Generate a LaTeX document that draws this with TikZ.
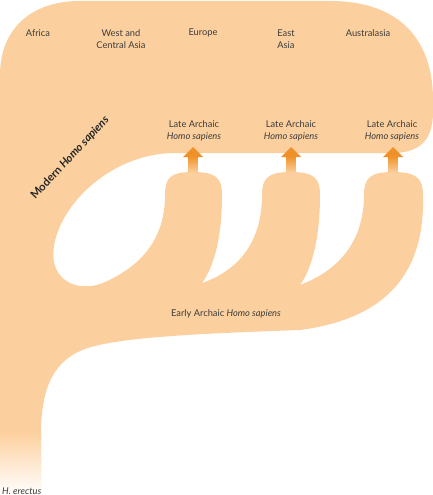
\documentclass[tikz,border=0pt]{standalone}
\usepackage{fontspec}
\setmainfont{Lato}
\definecolor{peach}{HTML}{FCD09E}
\definecolor{orangearrow}{HTML}{EF9128}
\definecolor{txt}{HTML}{3C3C3C}
\begin{document}
\begin{tikzpicture}[x=1pt,y=-1pt,
  lbl/.style={inner sep=0pt, text=txt, font=\fontsize{9.3}{12.5}\selectfont, align=center},
  bigl/.style={inner sep=0pt, text=black!85, font=\fontsize{11.2}{13}\selectfont\bfseries}]
\useasboundingbox (0,0) rectangle (433,495);
% main body
\fill[peach] (0,495) -- (0,75)
  .. controls (0,30) and (30,1) .. (80,1)
  -- (330,1)
  .. controls (400,1) and (433,40) .. (433,100)
  -- (433,112)
  .. controls (433,140) and (420,152) .. (395,153)
  -- (175,153)
  .. controls (130,153) and (85,180) .. (63,220)
  .. controls (50,245) and (48,272) .. (70,283)
  .. controls (80,288) and (95,287) .. (105,282)
  .. controls (150,262) and (165,230) .. (165,195)
  .. controls (165,178) and (170,172) .. (193,172)
  .. controls (216,172) and (222,178) .. (222,195)
  .. controls (222,235) and (215,265) .. (202,283)
  .. controls (245,268) and (262,235) .. (262,195)
  .. controls (262,178) and (268,172) .. (291,172)
  .. controls (314,172) and (320,178) .. (320,195)
  .. controls (320,235) and (313,267) .. (300,285)
  .. controls (345,268) and (364,235) .. (364,195)
  .. controls (364,178) and (370,172) .. (393,172)
  .. controls (416,172) and (423,178) .. (423,195)
  .. controls (425,270) and (390,318) .. (300,330)
  .. controls (220,333) and (120,336) .. (85,349)
  .. controls (55,360) and (42,385) .. (41,430)
  -- (41,495) -- cycle;
% fading trunk
\shade[top color=peach, bottom color=white] (0,432) rectangle (41,495);
% arrows
\foreach \cx in {193,291,393}{
  \shade[top color=orangearrow, bottom color=peach] (\cx-4.5,156) rectangle (\cx+4.5,173);
  \fill[orangearrow] (\cx-10,157) -- (\cx,147) -- (\cx+10,157) -- cycle;
}
% labels
\node[lbl] (africa) at (38,33) {Africa};
\node[lbl] (wca) at (121,39) {West and\\Central Asia};
\node[lbl] (europe) at (203,33) {Europe};
\node[lbl] (easia) at (286,39) {East\\Asia};
\node[lbl] (austr) at (368,33) {Australasia};
\node[lbl] (la1) at (194,131) {Late Archaic\\\textit{Homo sapiens}};
\node[lbl] (la2) at (291,131) {Late Archaic\\\textit{Homo sapiens}};
\node[lbl] (la3) at (392,131) {Late Archaic\\\textit{Homo sapiens}};
\node[lbl, anchor=base] (early) at (226,316) {Early Archaic \textit{Homo sapiens}};
\node[lbl, anchor=base west] (herect) at (2,494) {\textit{H. erectus}};
\node[bigl, rotate=47] (modern) at (70,158) {Modern \textit{Homo sapiens}};
\end{tikzpicture}
\end{document}
